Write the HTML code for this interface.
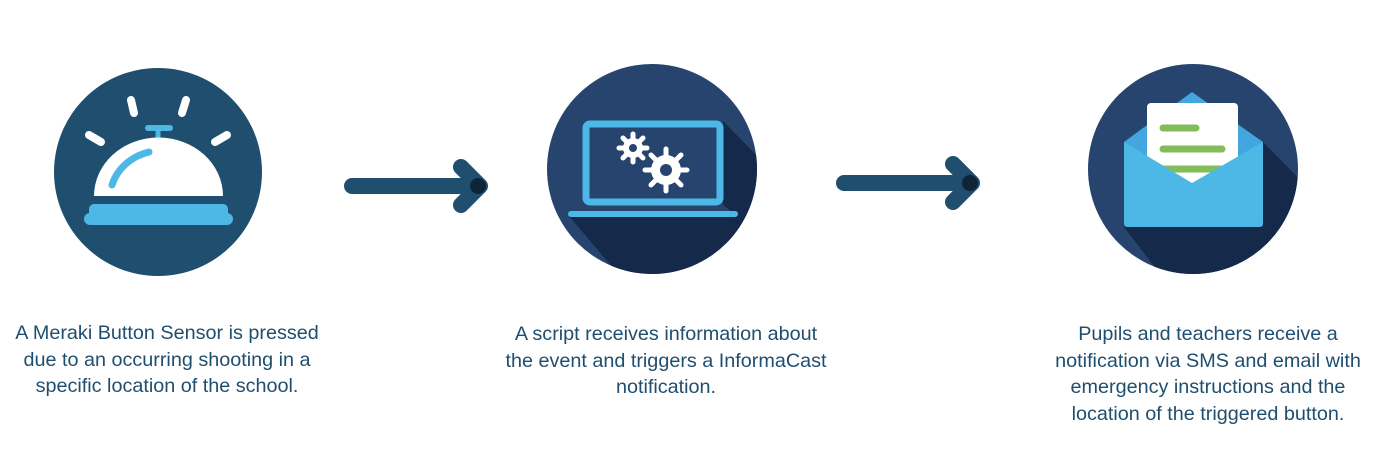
<!DOCTYPE html>
<html><head><meta charset="utf-8"><style>
html,body{margin:0;padding:0;background:#fff;width:1390px;height:474px;overflow:hidden;position:relative;font-family:"Liberation Sans",sans-serif;}
.t{position:absolute;color:#1f4e6e;font-size:19.8px;line-height:26.5px;text-align:center;white-space:nowrap;}
</style></head><body>
<svg width="1390" height="474" style="position:absolute;left:0;top:0">
<defs>
<clipPath id="c2"><circle cx="652" cy="169" r="105"/></clipPath>
<clipPath id="c3"><circle cx="1193" cy="169" r="105"/></clipPath>
</defs>
<circle cx="158" cy="172" r="104" fill="#1f4e6e"/>
<g stroke="#fff" stroke-width="8" stroke-linecap="round">
<line x1="131" y1="100" x2="134" y2="113"/>
<line x1="186" y1="100" x2="182" y2="113"/>
<line x1="89" y1="135" x2="101" y2="142"/>
<line x1="227" y1="135" x2="215" y2="142"/>
</g>
<line x1="148" y1="128" x2="170" y2="128" stroke="#4db8e6" stroke-width="6" stroke-linecap="round"/>
<line x1="158" y1="128" x2="158" y2="140" stroke="#4db8e6" stroke-width="5"/>
<path d="M94 196 A64 58 0 0 1 223 196 Z" fill="#fff"/>
<path d="M112 185 A52 48 0 0 1 149 152" stroke="#4db8e6" stroke-width="7" fill="none" stroke-linecap="round"/>
<rect x="89" y="204" width="139" height="20" rx="5" fill="#4db8e6"/>
<rect x="84" y="213" width="149" height="12" rx="6" fill="#4db8e6"/>
<g clip-path="url(#c2)">
<rect x="540" y="60" width="230" height="220" fill="#27446e"/>
<polygon points="723,121 800,200 800,300 640,300 569,216 737,216 723,205" fill="#15294a"/>
</g>
<rect x="586" y="124" width="134" height="78" rx="4" fill="none" stroke="#4db8e6" stroke-width="7"/>
<line x1="571" y1="214" x2="735" y2="214" stroke="#4db8e6" stroke-width="6" stroke-linecap="round"/>
<g fill="#fff">
<circle cx="633" cy="148" r="10"/>
<g stroke="#fff" stroke-width="5" stroke-linecap="round">
<line x1="633" y1="134" x2="633" y2="162"/><line x1="619" y1="148" x2="647" y2="148"/>
<line x1="623" y1="138" x2="643" y2="158"/><line x1="643" y1="138" x2="623" y2="158"/>
<line x1="666" y1="149" x2="666" y2="191"/><line x1="645" y1="170" x2="687" y2="170"/>
<line x1="651" y1="155" x2="681" y2="185"/><line x1="681" y1="155" x2="651" y2="185"/>
</g>
<circle cx="666" cy="170" r="15"/>
</g>
<circle cx="633" cy="148" r="4" fill="#27446e"/>
<circle cx="666" cy="170" r="6" fill="#27446e"/>
<g clip-path="url(#c3)">
<rect x="1080" y="60" width="230" height="220" fill="#27446e"/>
<polygon points="1263,142 1340,220 1340,300 1180,300 1124,227 1263,227" fill="#15294a"/>
</g>
<polygon points="1124,142 1192,92 1263,142 1263,200 1124,200" fill="#44a6df"/>
<rect x="1147" y="103" width="91" height="90" rx="4" fill="#fff"/>
<g stroke="#82bd5a" stroke-width="7" stroke-linecap="round">
<line x1="1163" y1="128" x2="1196" y2="128"/>
<line x1="1163" y1="149" x2="1222" y2="149"/>
<line x1="1163" y1="169" x2="1222" y2="169"/>
</g>
<path d="M1124 142 L1192 183 L1263 142 L1263 223 Q1263 227 1259 227 L1128 227 Q1124 227 1124 223 Z" fill="#4db8e6"/>
<g stroke="#1f4e6e" stroke-width="16" stroke-linecap="round" fill="none">
<line x1="352" y1="186" x2="478" y2="186"/>
<polyline points="461,167 480,186 461,205" stroke-linejoin="round"/>
<line x1="844" y1="183" x2="970" y2="183"/>
<polyline points="953,164 972,183 953,202" stroke-linejoin="round"/>
</g>
<circle cx="478" cy="186" r="8" fill="#0d2536"/>
<circle cx="970" cy="183" r="8" fill="#0d2536"/>
</svg>
<div class="t" style="left:-33px;width:400px;top:320px">A Meraki Button Sensor is pressed<br>due to an occurring shooting in a<br>specific location of the school.</div>
<div class="t" style="left:466px;width:400px;top:321px">A script receives information about<br>the event and triggers a InformaCast<br>notification.</div>
<div class="t" style="left:1008px;width:400px;top:321px">Pupils and teachers receive a<br>notification via SMS and email with<br>emergency instructions and the<br>location of the triggered button.</div>
</body></html>
